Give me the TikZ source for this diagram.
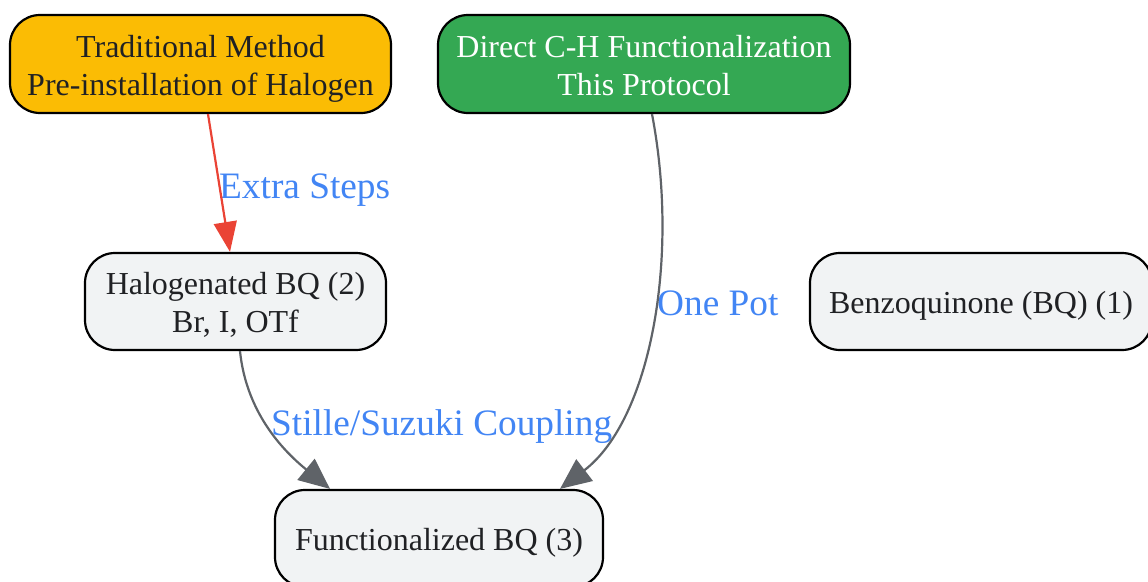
\documentclass[tikz,border=0pt]{standalone}
\usepackage{fontspec}
\setmainfont{Liberation Serif}
\usetikzlibrary{arrows.meta}
\definecolor{gyellow}{HTML}{FBBC04}
\definecolor{ggreen}{HTML}{34A853}
\definecolor{ggrey}{HTML}{F1F3F4}
\definecolor{gtext}{HTML}{202124}
\definecolor{gblue}{HTML}{4285F4}
\definecolor{gred}{HTML}{EA4335}
\definecolor{gedge}{HTML}{5F6368}
\newcommand{\boxtxt}[1]{\raisebox{-4.5pt}[\height][\depth]{\begin{tabular}{@{}c@{}}#1\end{tabular}}}
\tikzset{
  box/.style={draw=black, line width=2.2pt, rounded corners=30pt, inner sep=0pt,
    align=center, text=gtext, font=\fontsize{32}{38}\selectfont, fill=ggrey},
  elabel/.style={inner sep=0pt, anchor=base west, text=gblue, font=\fontsize{37.3}{44}\selectfont},
  redge/.style={draw=gred, line width=2.2pt, -{Triangle[length=30pt,width=23pt]}},
  gedgestyle/.style={draw=gedge, line width=2.2pt, -{Triangle[length=31pt,width=27pt]}},
}
\begin{document}
\begin{tikzpicture}[x=1pt,y=-1pt]
\useasboundingbox (0,0) rectangle (1148,581);
\clip (0,0) rectangle (1148,581);
\node[box, fill=gyellow, minimum width=381pt, minimum height=98pt] (trad) at (200.5,64) {\boxtxt{Traditional Method\\Pre-installation of Halogen}};
\node[box, fill=ggreen, text=white, minimum width=412pt, minimum height=98pt] (direct) at (644,64) {\boxtxt{Direct C-H Functionalization\\This Protocol}};
\node[box, minimum width=301pt, minimum height=97pt] (halo) at (235.5,301.5) {\boxtxt{Halogenated BQ (2)\\Br, I, OTf}};
\node[box, minimum width=342pt, minimum height=97pt] (bq) at (981,301.5) {\boxtxt{Benzoquinone (BQ) (1)}};
\node[box, minimum width=328pt, minimum height=97pt] (func) at (439,538.5) {\boxtxt{Functionalized BQ (3)}};
\node[elabel] (l1) at (219,198) {Extra Steps};
\node[elabel] (l2) at (657,315) {One Pot};
\node[elabel] (l3) at (271,435) {Stille/Suzuki Coupling};
\draw[redge] ([xshift=7.5pt]trad.south) -- ([xshift=-5.5pt]halo.north);
\draw[gedgestyle] ([xshift=8pt]direct.south) .. controls (680,260) and (650,420) .. ([xshift=121pt]func.north);
\draw[gedgestyle] ([xshift=4.5pt]halo.south) .. controls (245,400) and (270,440) .. ([xshift=-109pt]func.north);
\end{tikzpicture}
\end{document}
